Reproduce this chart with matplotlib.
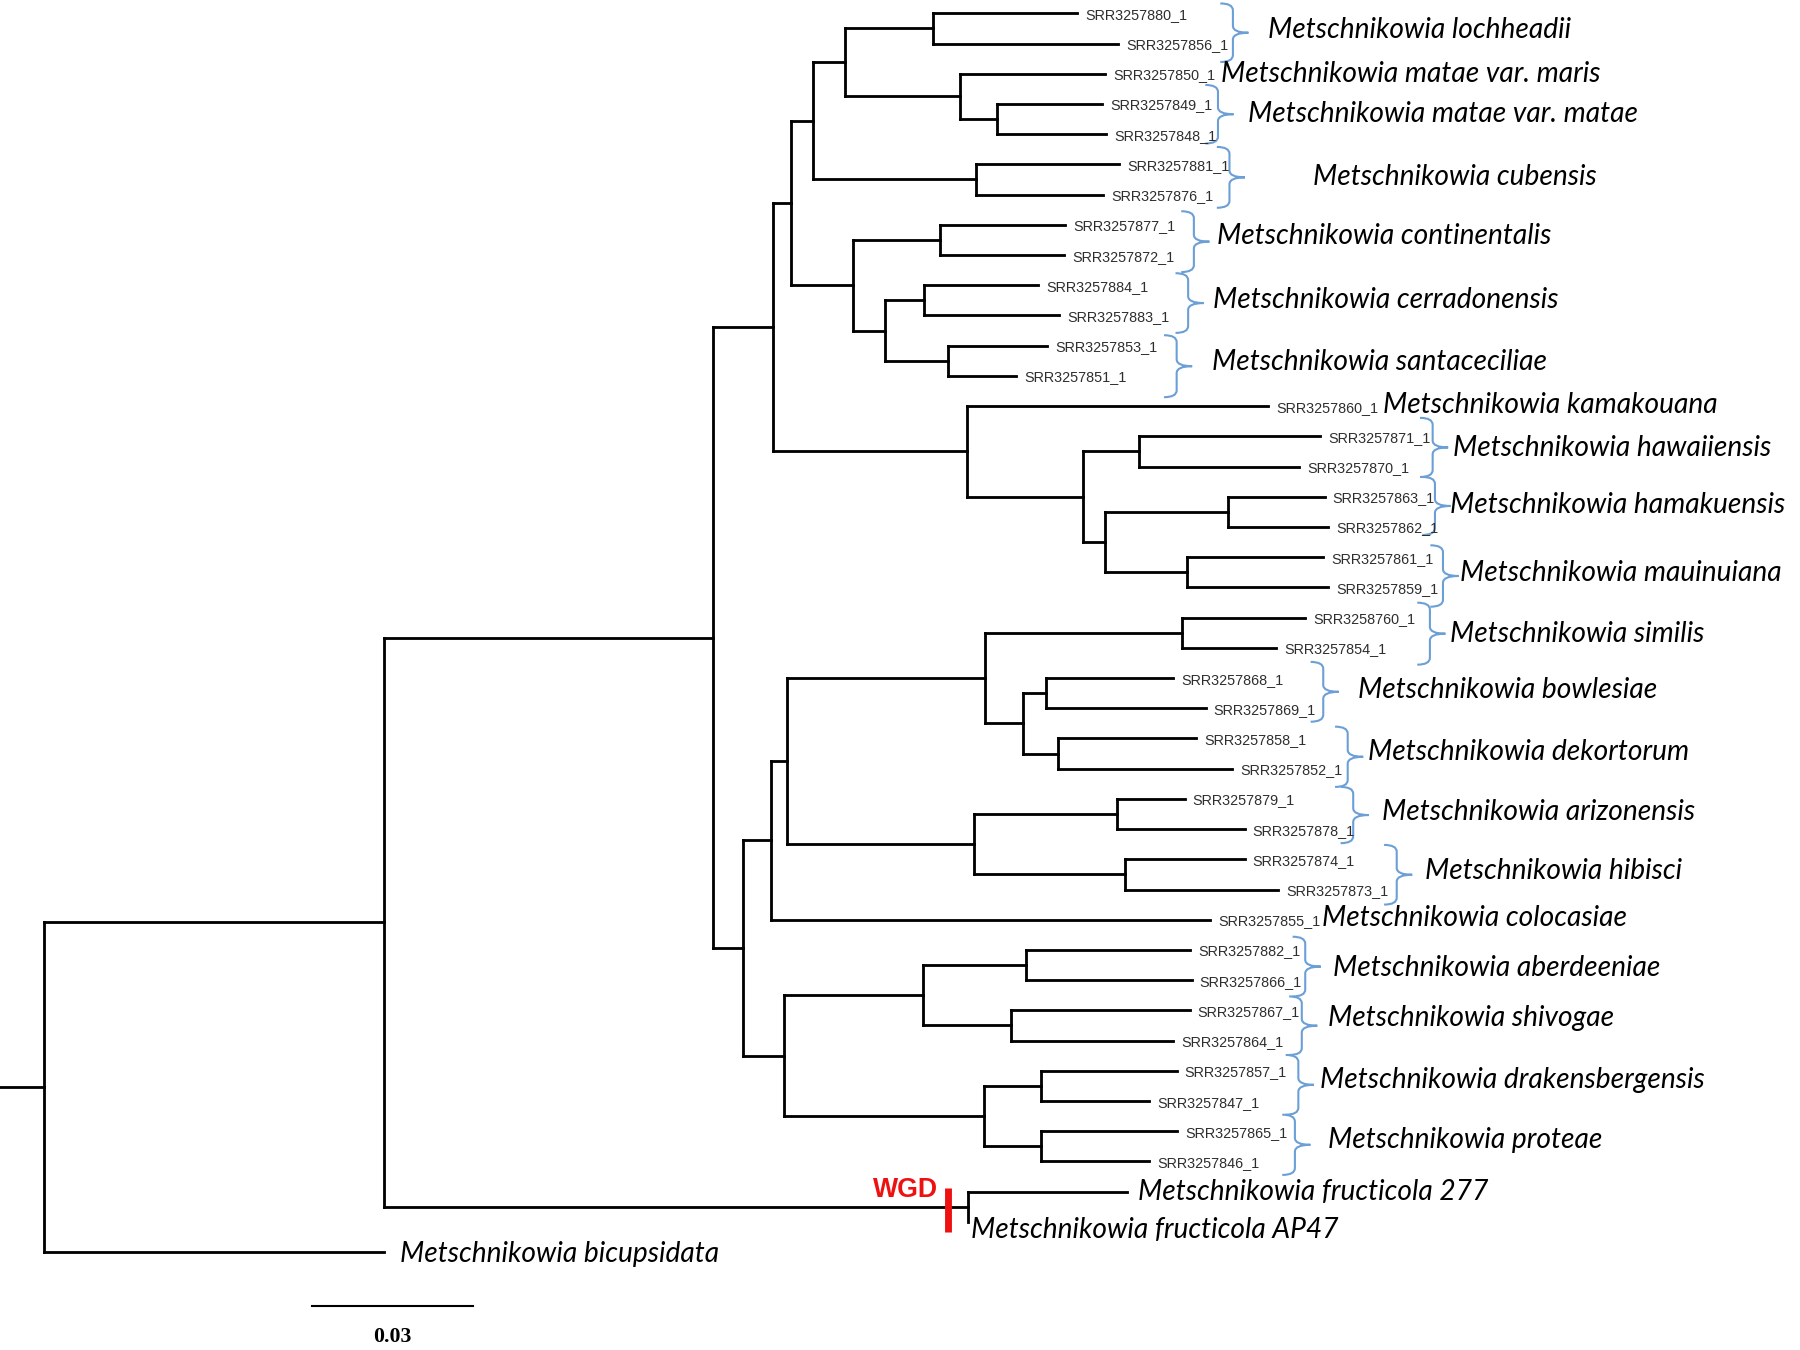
"""
Metschnikowia phylogeny with the WGD event on the M. fructicola branch.
Rectangular tree, branch lengths in substitutions per site.
"""
from collections import defaultdict

import matplotlib
matplotlib.use("Agg")
import matplotlib.pyplot as plt
from matplotlib.collections import LineCollection
from matplotlib.path import Path
from matplotlib.patches import PathPatch

# ---- tree data -----------------------------------------------------------
# internal nodes: name, parent, depth from root (subs/site)
NODES = ["root", "ingroup", "core", "fructicola", "cladeA", "upperA", "lmc",
         "lm", "loch", "matae", "matae2", "cub", "ccs", "cont", "cs", "cerr",
         "sant", "kam", "hhm", "haw", "hm", "hama", "maui", "cladeB", "b1",
         "b1a", "sbd", "sim", "bd", "bow", "dek", "ah", "ari", "hib", "b2",
         "asg", "abe", "shi", "dp", "dra", "pro"]
NODE_PARENT = [None, "root", "ingroup", "ingroup", "core", "cladeA", "upperA",
               "lmc", "lm", "lm", "matae", "lmc", "upperA", "ccs", "ccs", "cs",
               "cs", "cladeA", "kam", "hhm", "hhm", "hm", "hm", "core", "cladeB",
               "b1", "b1a", "sbd", "sbd", "bd", "bd", "b1a", "ah", "ah", "cladeB",
               "b2", "asg", "asg", "b2", "dp", "dp"]
NODE_DEPTH = [0.0, 0.0636, 0.1250, 0.1725, 0.1361, 0.1396, 0.1436,
              0.1495, 0.1661, 0.1710, 0.1780, 0.1740, 0.1511, 0.1674, 0.1571, 0.1644,
              0.1689, 0.1724, 0.1941, 0.2044, 0.1982, 0.2211, 0.2134, 0.1306, 0.1357,
              0.1387, 0.1757, 0.2125, 0.1828, 0.1871, 0.1893, 0.1737, 0.2004, 0.2019, 0.1382,
              0.1641, 0.1834, 0.1805, 0.1755, 0.1861, 0.1861]

# leaves, top to bottom
LEAVES = ["SRR3257880_1", "SRR3257856_1", "SRR3257850_1", "SRR3257849_1",
          "SRR3257848_1", "SRR3257881_1", "SRR3257876_1", "SRR3257877_1",
          "SRR3257872_1", "SRR3257884_1", "SRR3257883_1", "SRR3257853_1",
          "SRR3257851_1", "SRR3257860_1", "SRR3257871_1", "SRR3257870_1",
          "SRR3257863_1", "SRR3257862_1", "SRR3257861_1", "SRR3257859_1",
          "SRR3258760_1", "SRR3257854_1", "SRR3257868_1", "SRR3257869_1",
          "SRR3257858_1", "SRR3257852_1", "SRR3257879_1", "SRR3257878_1",
          "SRR3257874_1", "SRR3257873_1", "SRR3257855_1", "SRR3257882_1",
          "SRR3257866_1", "SRR3257867_1", "SRR3257864_1", "SRR3257857_1",
          "SRR3257847_1", "SRR3257865_1", "SRR3257846_1",
          "Metschnikowia fructicola 277", "Metschnikowia fructicola AP47",
          "Metschnikowia bicupsidata"]
LEAF_PARENT = ["loch", "loch", "matae", "matae2", "matae2", "cub", "cub",
               "cont", "cont", "cerr", "cerr", "sant", "sant", "kam", "haw", "haw",
               "hama", "hama", "maui", "maui", "sim", "sim", "bow", "bow", "dek",
               "dek", "ari", "ari", "hib", "hib", "b1", "abe", "abe", "shi", "shi",
               "dra", "dra", "pro", "pro", "fructicola", "fructicola", "root"]
LEAF_DEPTH = [0.1929, 0.2006, 0.1981, 0.1976, 0.1984, 0.2008, 0.1978, 0.1907,
              0.1905, 0.1856, 0.1896, 0.1873, 0.1815, 0.2286, 0.2383, 0.2344,
              0.2391, 0.2398, 0.2389, 0.2398, 0.2355, 0.2301, 0.2109, 0.2169,
              0.2151, 0.2218, 0.2130, 0.2242, 0.2242, 0.2304, 0.2177, 0.2140,
              0.2143, 0.2139, 0.2109, 0.2115, 0.2064, 0.2116, 0.2064,
              0.2022, 0.1725, 0.0636]

# species names (brace groups are laid out below)
SPECIES = ["Metschnikowia lochheadii", "Metschnikowia matae var. maris",
           "Metschnikowia matae var. matae", "Metschnikowia cubensis",
           "Metschnikowia continentalis", "Metschnikowia cerradonensis",
           "Metschnikowia santaceciliae", "Metschnikowia kamakouana",
           "Metschnikowia hawaiiensis", "Metschnikowia hamakuensis",
           "Metschnikowia mauinuiana", "Metschnikowia similis",
           "Metschnikowia bowlesiae", "Metschnikowia dekortorum",
           "Metschnikowia arizonensis", "Metschnikowia hibisci",
           "Metschnikowia colocasiae", "Metschnikowia aberdeeniae",
           "Metschnikowia shivogae", "Metschnikowia drakensbergensis",
           "Metschnikowia proteae"]

WGD_DEPTH = 0.1689
SCALE_LEN = 0.03

# ---- layout (reference pixel grid, 1568 x 1176) ------------------------------
W_PX, H_PX = 1568, 1176
X_ROOT_PX, PX_PER_UNIT = 38.0, 140.0 / 0.03
Y_TOP_PX, ROW_PX = 11.6, 26.32

# brace vertical x, text x, text y, brace top, brace bottom (None = no brace)
BRACE_X = [1074, None, 1061, 1071, 1040, 1035, 1025, None, 1248, 1250, 1257,
           1245.6, 1152.7, 1174, 1178.8, 1216.7, None, 1137, 1134, 1131, 1128]
TEXT_X = [1105, 1063.5, 1087, 1144, 1060, 1057, 1056, 1205, 1266, 1263, 1272,
          1263, 1183, 1191.6, 1203.6, 1241, 1151.6, 1161, 1157, 1150, 1157]
TEXT_Y = [26, 64.5, 99, 154, 206, 261, 315, 353, 390, 440, 499,
          552, 601, 655, 707, 759, 800, 843, 887, 941, 993]
BRACE_TOP = [3, None, 74, 128, 184, 238, 292, None, 364, 415.5, 475,
             525, 576.6, 633, 685.5, 736, None, 816, 868, 919, 971]
BRACE_BOT = [54, None, 125, 181, 237, 290, 346, None, 415.5, 466, 528.5,
             579, 628.7, 685.5, 734.5, 788, None, 868, 919, 971, 1023.5]

BLUE = "#6b9fd6"
SPECIES_FONT = dict(family="Lato", style="italic", size=13.5, color="black")
SRR_FONT = dict(family="Liberation Sans", size=6.9, color="#2e2e2e")


def ux(px):
    return (px - X_ROOT_PX) / PX_PER_UNIT


def uy(py):
    return (py - Y_TOP_PX) / ROW_PX


def build_tree():
    depth = dict(zip(NODES, NODE_DEPTH))
    depth.update(zip(LEAVES, LEAF_DEPTH))
    parent = dict(zip(NODES, NODE_PARENT))
    parent.update(zip(LEAVES, LEAF_PARENT))
    children = defaultdict(list)
    for name, par in parent.items():
        if par is not None:
            children[par].append(name)
    ypos = {leaf: float(i) for i, leaf in enumerate(LEAVES)}

    def node_y(n):
        if n not in ypos:
            ys = [node_y(c) for c in children[n]]
            ypos[n] = 0.5 * (min(ys) + max(ys))
        return ypos[n]

    node_y("root")
    return depth, parent, children, ypos


def draw_brace(ax, xv, top, bot, color=BLUE):
    h, r, tip = 11.0, 6.0, 13.5
    mid = 0.5 * (top + bot)
    pts = [(xv - h, top), (xv, top), (xv, top + r), (xv, mid - r),
           (xv, mid), (xv + tip, mid), (xv, mid), (xv, mid + r),
           (xv, bot - r), (xv, bot), (xv - h, bot)]
    codes = [Path.MOVETO, Path.CURVE3, Path.CURVE3, Path.LINETO,
             Path.CURVE3, Path.CURVE3, Path.CURVE3, Path.CURVE3,
             Path.LINETO, Path.CURVE3, Path.CURVE3]
    path = Path([(ux(x), uy(y)) for x, y in pts], codes)
    ax.add_patch(PathPatch(path, fill=False, edgecolor=color, lw=1.0))


def main():
    depth, parent, children, ypos = build_tree()

    fig = plt.figure(figsize=(12, 9), dpi=150)
    ax = fig.add_axes([0, 0, 1, 1])
    ax.set_xlim(ux(0), ux(W_PX))
    ax.set_ylim(uy(H_PX), uy(0))
    ax.axis("off")

    segs = []
    for n in NODES:
        ys = [ypos[c] for c in children[n]]
        segs.append([(depth[n], min(ys)), (depth[n], max(ys))])
    for n, par in parent.items():
        if par is not None:
            segs.append([(depth[par], ypos[n]), (depth[n], ypos[n])])
    segs.append([(ux(0), ypos["root"]), (0.0, ypos["root"])])
    ax.add_collection(LineCollection(segs, colors="black", linewidths=1.35,
                                     capstyle="projecting", joinstyle="miter"))

    # tip labels
    gap = 7.0 / PX_PER_UNIT
    for leaf in LEAVES:
        if leaf.startswith("SRR"):
            ax.text(depth[leaf] + gap, ypos[leaf] + 0.05, leaf,
                    ha="left", va="center", **SRR_FONT)
    f277, fap, fbic = LEAVES[-3:]
    ax.text(depth[f277] + 9.5 / PX_PER_UNIT, ypos[f277], f277,
            ha="left", va="center", **SPECIES_FONT)
    ax.text(depth[fap] + 3.0 / PX_PER_UNIT, ypos[fap] + 0.27, fap,
            ha="left", va="center", **SPECIES_FONT)
    ax.text(depth[fbic] + 14.0 / PX_PER_UNIT, ypos[fbic] + 0.05, fbic,
            ha="left", va="center", **SPECIES_FONT)

    # species brackets and names
    for i, sp in enumerate(SPECIES):
        if BRACE_X[i] is not None:
            draw_brace(ax, BRACE_X[i], BRACE_TOP[i], BRACE_BOT[i])
        ax.text(ux(TEXT_X[i]), uy(TEXT_Y[i]), sp, ha="left", va="center",
                **SPECIES_FONT)

    # whole-genome duplication mark
    fy = ypos["fructicola"]
    ax.plot([WGD_DEPTH, WGD_DEPTH], [fy - 0.62, fy + 0.83], color="#ee1111",
            lw=3.3, solid_capstyle="butt")
    ax.text(WGD_DEPTH - 9.0 / PX_PER_UNIT, fy - 0.55, "WGD", ha="right",
            va="center", family="Liberation Sans", weight="bold", size=12.8,
            color="#ee1111")

    # scale bar
    x0, yb = ux(272), uy(1138)
    ax.plot([x0, x0 + SCALE_LEN], [yb, yb], color="black", lw=1.0)
    ax.text(x0 + SCALE_LEN / 2, uy(1165), f"{SCALE_LEN:.2f}", ha="center",
            va="center", family="Liberation Serif", weight="bold", size=10.5)

    fig.savefig("out.png", dpi=150, facecolor="white")
    plt.close(fig)


if __name__ == "__main__":
    main()
